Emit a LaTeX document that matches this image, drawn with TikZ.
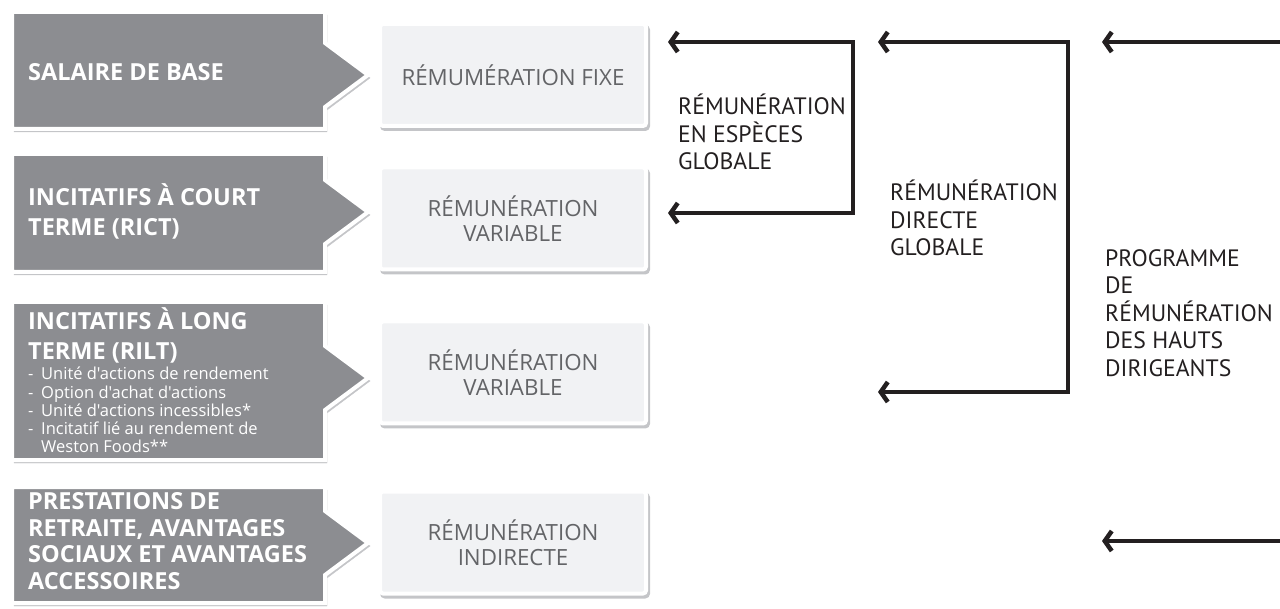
\documentclass[tikz,border=0pt]{standalone}
\usepackage{fontspec}
\setmainfont{Open Sans}
\newfontfamily\bulfont{Open Sans}
\newfontfamily\lblfont{PT Sans}
\usetikzlibrary{arrows.meta}
\definecolor{darkbox}{HTML}{8C8D91}
\definecolor{lightbox}{HTML}{F1F2F4}
\definecolor{lighttext}{HTML}{636467}
\definecolor{ink}{HTML}{231F20}
\definecolor{shadowc}{HTML}{C4C5C8}
\newcommand\bul{\makebox[13pt][l]{-}}
\begin{document}
\begin{tikzpicture}[x=1pt,y=-1pt,
  dshape/.style={fill=darkbox, draw=white, line width=4pt, line join=miter,
    preaction={fill=shadowc, draw=shadowc, transform canvas={xshift=2pt,yshift=-3pt}}},
  lbox/.style={rectangle, rounded corners=3pt, fill=lightbox, draw=white, line width=4pt,
    minimum width=266pt, minimum height=102pt, text=lighttext, align=center, inner sep=0pt,
    font=\fontsize{22.3}{25}\selectfont,
    preaction={fill=shadowc, draw=shadowc, transform canvas={xshift=2pt,yshift=-3pt}}},
  dtext/.style={text=white, align=left, anchor=west, inner sep=0pt, font=\bfseries\fontsize{23.5}{30}\selectfont},
  btext/.style={text=white, align=left, anchor=north west, inner sep=0pt, font=\bulfont\fontsize{16.5}{18.2}\selectfont},
  lbl/.style={text=ink, align=left, anchor=west, inner sep=0pt, font=\lblfont\fontsize{23.7}{27.5}\selectfont},
  arr/.style={draw=ink, line width=4.5pt, line join=miter, {Straight Barb[length=7pt,width=20pt,sharp]}-{Straight Barb[length=7pt,width=20pt,sharp]}},
  arrone/.style={draw=ink, line width=4.5pt, {Straight Barb[length=7pt,width=20pt,sharp]}-}
]
\useasboundingbox (0,0) rectangle (1280,609);

% dark arrow-shaped boxes
\foreach \t/\b/\m in {12/129/75, 154/272/212, 302/460/378, 487/603/543}{
  \path[dshape] (12,\t) -- (325,\t) -- (325,\m-32) -- (368,\m) -- (325,\m+32)
    -- (325,\b) -- (12,\b) -- cycle;
}

\node[dtext] (d1) at (28,72) {SALAIRE DE BASE};
\node[dtext] (d2) at (28,211) {INCITATIFS À COURT\\TERME (RICT)};
\node[dtext] (d3) at (28,335) {INCITATIFS À LONG\\TERME (RILT)};
\node[btext] (d3b) at (28,367) {\bul Unité d'actions de rendement\\
  \bul Option d'achat d'actions\\
  \bul Unité d'actions incessibles*\\
  \bul Incitatif lié au rendement de\\
  \hspace*{13pt}Weston Foods**};
\node[dtext, font=\bfseries\fontsize{23.5}{26.5}\selectfont] (d4) at (28,541) {PRESTATIONS DE\\RETRAITE, AVANTAGES\\SOCIAUX ET AVANTAGES\\ACCESSOIRES};

% light boxes
\node[lbox] (l1) at (513,75) {RÉMUMÉRATION FIXE};
\node[lbox] (l2) at (513,218.5) {RÉMUNÉRATION\\VARIABLE};
\node[lbox] (l3) at (513,372.5) {RÉMUNÉRATION\\VARIABLE};
\node[lbox] (l4) at (513,542.5) {RÉMUNÉRATION\\INDIRECTE};

% brackets
\coordinate (a1) at (668,42);
\coordinate (a2) at (853,42);
\coordinate (a3) at (853,213);
\coordinate (a4) at (668,213);
\draw[arr] (a1) -- (a2) -- (a3) -- (a4);

\coordinate (b1) at (878,42);
\coordinate (b2) at (1068,42);
\coordinate (b3) at (1068,392);
\coordinate (b4) at (878,392);
\draw[arr] (b1) -- (b2) -- (b3) -- (b4);

\coordinate (c1) at (1102,42);
\coordinate (c2) at (1290,42);
\coordinate (c3) at (1102,541);
\coordinate (c4) at (1290,541);
\draw[arrone] (c1) -- (c2);
\draw[arrone] (c3) -- (c4);

% labels
\node[lbl] (g1) at (678,132) {RÉMUNÉRATION\\EN ESPÈCES\\GLOBALE};
\node[lbl] (g2) at (890,218) {RÉMUNÉRATION\\DIRECTE\\GLOBALE};
\node[lbl] (g3) at (1105,313) {PROGRAMME\\DE\\RÉMUNÉRATION\\DES HAUTS\\DIRIGEANTS};
\end{tikzpicture}
\end{document}
